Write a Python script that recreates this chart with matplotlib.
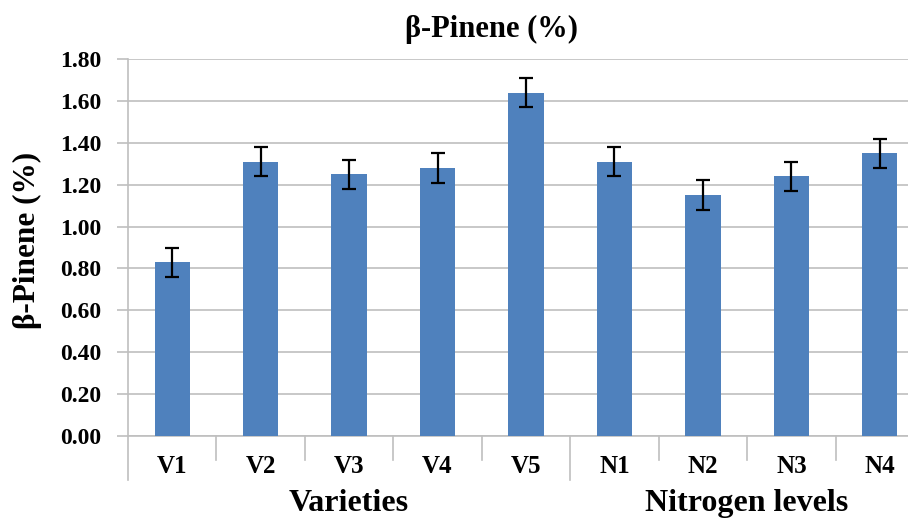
import matplotlib.pyplot as plt
import matplotlib.transforms as mtransforms

categories = ['V1', 'V2', 'V3', 'V4', 'V5', 'N1', 'N2', 'N3', 'N4']
values = [0.83, 1.31, 1.25, 1.28, 1.64, 1.31, 1.15, 1.24, 1.35]
errors = [0.07, 0.07, 0.07, 0.07, 0.07, 0.07, 0.07, 0.07, 0.07]
groups = ['Varieties', 'Nitrogen levels']
group_sizes = [5, 4]
yticks = [0.0, 0.2, 0.4, 0.6, 0.8, 1.0, 1.2, 1.4, 1.6, 1.8]

plt.rcParams['font.family'] = ['Liberation Serif', 'DejaVu Serif']
plt.rcParams['font.weight'] = 'bold'

grid_col = '#bfbfbf'
bar_col = '#4f81bd'

fig = plt.figure(figsize=(9.08, 5.19), dpi=100)
ax = fig.add_axes([128 / 908, 83 / 519, 796 / 908, 377 / 519])

x = list(range(len(categories)))
ax.bar(x, values, width=0.4, color=bar_col, zorder=3)
ax.errorbar(x, values, yerr=errors, fmt='none', ecolor='black',
            elinewidth=1.6, capsize=5, capthick=1.6, zorder=4)

ax.set_xlim(-0.5, len(categories) - 0.5)
ax.set_ylim(0, 1.8)
ax.set_yticks(yticks)
ax.set_yticklabels([f'{v:.2f}' for v in yticks], fontsize=17, fontweight='bold')
ax.yaxis.grid(True, color=grid_col, linewidth=1.2, zorder=0)
ax.tick_params(axis='y', length=8, width=1.2, color=grid_col, pad=11)

ax.set_xticks(x)
ax.set_xticklabels(categories, fontsize=18, fontweight='bold')
ax.tick_params(axis='x', length=0, pad=14)

for s in ['top', 'right']:
    ax.spines[s].set_visible(False)
for s in ['left', 'bottom']:
    ax.spines[s].set_color(grid_col)
    ax.spines[s].set_linewidth(1.2)

# category separators below the axis, longer ones between groups
trans = mtransforms.blended_transform_factory(ax.transData, ax.transAxes)
edges = [0]
for n in group_sizes:
    edges.append(edges[-1] + n)
for i in range(len(categories) + 1):
    xs = i - 0.5
    low = -0.117 if i in edges else -0.064
    ax.plot([xs, xs], [0, low], color=grid_col, lw=1.2, transform=trans, clip_on=False)

for g, start, n in zip(groups, edges[:-1], group_sizes):
    ax.text(start + (n - 1) / 2, -0.178, g, transform=trans, ha='center', va='center',
            fontsize=23, fontweight='bold')

fig.text(27 / 908, 1 - 240 / 519, 'β-Pinene (%)', rotation=90, ha='center', va='center',
         fontsize=22.5, fontweight='bold')
fig.text(491 / 908, 1 - 29 / 519, 'β-Pinene (%)', ha='center', va='center',
         fontsize=22, fontweight='bold')

fig.savefig('out.png', dpi=100)
